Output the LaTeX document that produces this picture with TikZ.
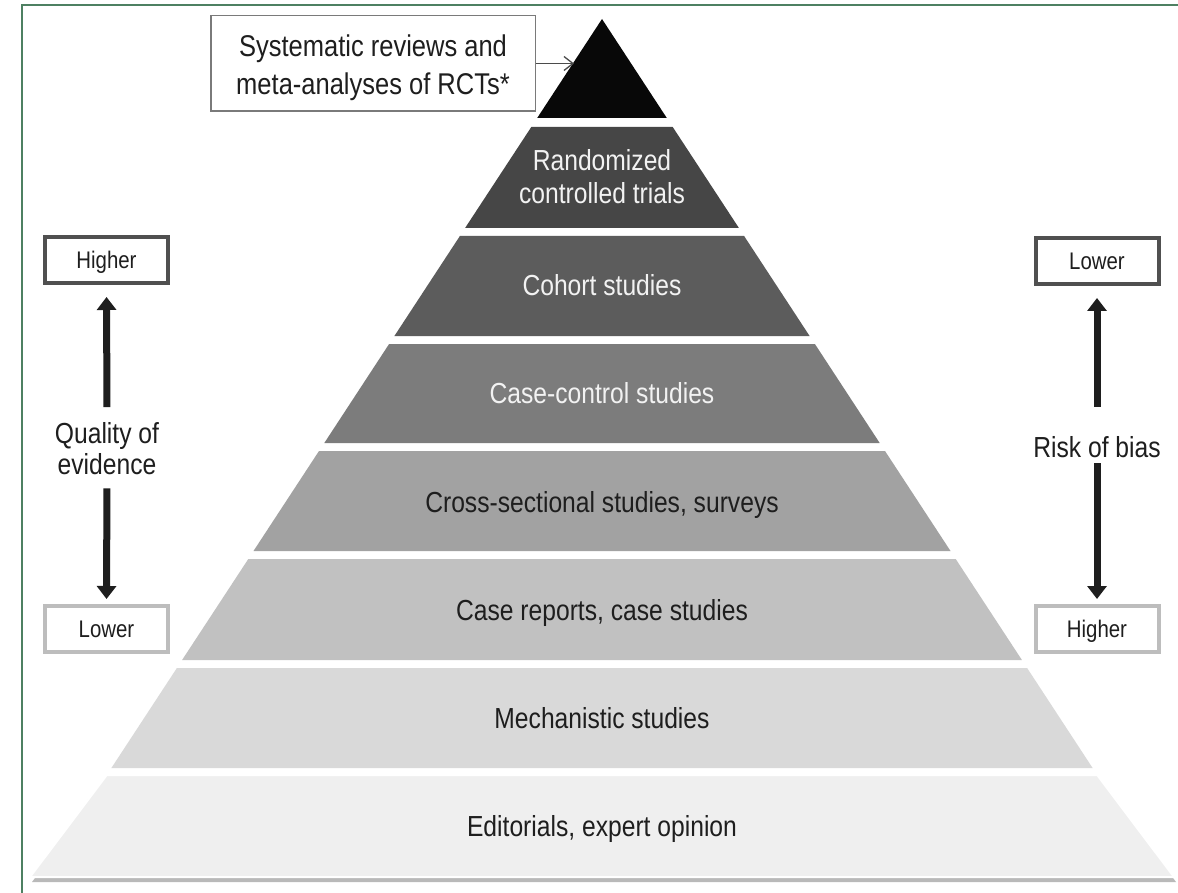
\documentclass[tikz,border=0pt]{standalone}
\usepackage{fontspec}
\setmainfont{Liberation Sans}
\usetikzlibrary{arrows.meta}
\newcommand{\sq}[1]{\scalebox{0.85}[1]{#1}}
\definecolor{framegreen}{HTML}{4E8062}
\definecolor{cA}{HTML}{080808}
\definecolor{cB}{HTML}{464646}
\definecolor{cC}{HTML}{5C5C5C}
\definecolor{cD}{HTML}{7C7C7C}
\definecolor{cE}{HTML}{A2A2A2}
\definecolor{cF}{HTML}{C1C1C1}
\definecolor{cG}{HTML}{D9D9D9}
\definecolor{cH}{HTML}{EFEFEF}
\definecolor{txtdark}{HTML}{1E1E1E}
\definecolor{txtwhite}{HTML}{F2F2F2}
\definecolor{boxdark}{HTML}{505050}
\definecolor{boxlight}{HTML}{BDBDBD}
\definecolor{topboxc}{HTML}{7A7A7A}
\definecolor{arrowc}{HTML}{1E1E1E}
\begin{document}
\begin{tikzpicture}[x=1pt,y=-1pt,
  lab/.style={font=\fontsize{29}{33}\selectfont, inner sep=0pt, text=txtdark},
  wlab/.style={lab, text=txtwhite},
  sidebox/.style={draw, line width=4pt, minimum width=123pt, minimum height=46pt,
    inner sep=0pt, text height=17.2pt, text depth=0pt, text=txtdark,
    font=\fontsize{24}{28}\selectfont},
  bigarrow/.style={line width=7pt, draw=arrowc, -{Triangle[width=19pt,length=13pt]}},
  bandsep/.style={draw=white, line width=2pt}]
\useasboundingbox (0,0) rectangle (1178,893);
\fill[white] (0,0) rectangle (1178,893);
\draw[framegreen, line width=2pt] (22,893) -- (22,5) -- (1178,5);

% pyramid bands
\fill[cA] (602,19) -- (666.8,118) -- (537.2,118) -- cycle;
\fill[cB] (531.3,127) -- (672.7,127) -- (738.9,228) -- (465.1,228) -- cycle;
\fill[cC] (459.9,236) -- (744.1,236) -- (809.6,336) -- (394.4,336) -- cycle;
\fill[cD] (389.1,344) -- (814.9,344) -- (879.7,443) -- (324.3,443) -- cycle;
\fill[cE] (319.0,451) -- (885.0,451) -- (950.5,551) -- (253.5,551) -- cycle;
\fill[cF] (248.3,559) -- (955.7,559) -- (1021.9,660) -- (182.1,660) -- cycle;
\fill[cG] (176.9,668) -- (1027.1,668) -- (1092.6,768) -- (111.4,768) -- cycle;
\fill[gray!55] (108.8,780) -- (1099.2,780) -- (1176,882) -- (32,882) -- cycle;
\filldraw[cH, bandsep] (106.8,775) -- (1097.2,775) -- (1174,877) -- (30,877) -- cycle;

% pyramid labels
\node[wlab, align=center] (rct) at (602,176.4) {\sq{Randomized}\\\sq{controlled trials}};
\node[wlab, anchor=base] (coh) at (602,296) {\sq{Cohort studies}};
\node[wlab, anchor=base] (cc) at (602,403) {\sq{Case-control studies}};
\node[lab, anchor=base] (cs) at (602,512) {\sq{Cross-sectional studies, surveys}};
\node[lab, anchor=base] (cr) at (602,620) {\sq{Case reports, case studies}};
\node[lab, anchor=base] (ms) at (602,728) {\sq{Mechanistic studies}};
\node[lab, anchor=base] (eo) at (602,836) {\sq{Editorials, expert opinion}};

% top box
\node[draw=topboxc, line width=1.5pt, minimum width=324.5pt, minimum height=95.5pt, inner sep=0pt] (sr) at (373,63.5) {};
\node[lab, align=center, font=\fontsize{30}{38}\selectfont] (srt) at (373,68) {\sq{Systematic reviews and}\\\sq{meta-analyses of RCTs*}};
\coordinate (tipc) at (574,63.5);
\draw[draw=arrowc!80, line width=1.3pt, -{Straight Barb[length=9pt,width=14pt]}] (sr.east) -- (tipc);

% left scale
\node[sidebox, draw=boxdark] (lh) at (106.5,260) {\sq{Higher}};
\node[sidebox, draw=boxlight] (ll) at (106.5,629) {\sq{Lower}};
\node[lab, align=center, font=\fontsize{29}{31}\selectfont] (qe) at (107,448.4) {\sq{Quality of}\\\sq{evidence}};
\draw[bigarrow, shorten <=15pt, shorten >=12pt] (qe.north) -- (lh.south);
\draw[bigarrow, shorten <=13.6pt, shorten >=5pt] (qe.south) -- (ll.north);

% right scale
\node[sidebox, draw=boxdark] (rl) at (1097,261) {\sq{Lower}};
\node[sidebox, draw=boxlight] (rh) at (1097,629) {\sq{Higher}};
\node[lab, anchor=base] (rb) at (1097,457) {\sq{Risk of bias}};
\draw[bigarrow, shorten <=29pt, shorten >=12pt] (rb.north) -- (rl.south);
\draw[bigarrow, shorten <=6pt, shorten >=5pt] (rb.south) -- (rh.north);
\end{tikzpicture}
\end{document}
